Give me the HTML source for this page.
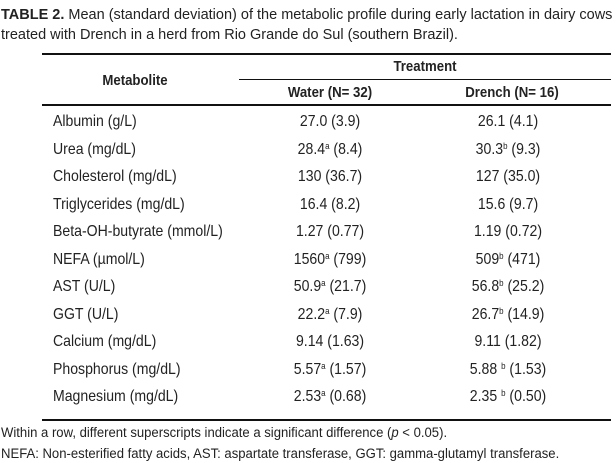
<!DOCTYPE html>
<html><head><meta charset="utf-8">
<style>
body{margin:0;width:616px;height:463px;background:#fff;position:relative;overflow:hidden;font-family:"Liberation Sans Narrow","Liberation Sans",sans-serif;color:#222;}
.t{position:absolute;white-space:nowrap;font-size:16px;line-height:18px;transform:scaleX(.88);transform-origin:0 0;}
.title{font-size:14.5px;left:1px;transform:none;}
.foot{font-size:13.5px;transform:scaleX(.97);}
.rule{position:absolute;height:1.5px;background:#111;}
.c{transform:translateX(-50%) scaleX(.88);transform-origin:50% 0;}
.h{font-weight:bold;font-size:15px;}
sup{font-size:9px;vertical-align:5px;line-height:0;}
b{font-weight:bold;}
</style></head><body>
<div class="t title" style="top:6px"><b>TABLE 2.</b> Mean (standard deviation) of the metabolic profile during early lactation in dairy cows</div>
<div class="t title" style="top:26px">treated with Drench in a herd from Rio Grande do Sul (southern Brazil).</div>
<div class="rule" style="left:42px;width:569px;top:53px"></div>
<div class="rule" style="left:239px;width:372px;top:79px;height:1px"></div>
<div class="rule" style="left:42px;width:569px;top:104px"></div>
<div class="rule" style="left:42px;width:569px;top:419px"></div>
<div class="t c h" style="left:135px;top:72px">Metabolite</div>
<div class="t c h" style="left:425px;top:58px">Treatment</div>
<div class="t c h" style="left:330px;top:84px">Water (N= 32)</div>
<div class="t c h" style="left:512px;top:84px">Drench (N= 16)</div>
<div id="rows"></div>
<div class="t foot" style="left:1px;top:424px">Within a row, different superscripts indicate a significant difference (<i>p</i> &lt; 0.05).</div>
<div class="t foot" style="left:1px;top:445px">NEFA: Non-esterified fatty acids, AST: aspartate transferase, GGT: gamma-glutamyl transferase.</div>
<script>
const metabolites=["Albumin (g/L)","Urea (mg/dL)","Cholesterol (mg/dL)","Triglycerides (mg/dL)","Beta-OH-butyrate (mmol/L)","NEFA (µmol/L)","AST (U/L)","GGT (U/L)","Calcium (mg/dL)","Phosphorus (mg/dL)","Magnesium (mg/dL)"];
const waterVals=["27.0 (3.9)","28.4<sup>a</sup> (8.4)","130 (36.7)","16.4 (8.2)","1.27 (0.77)","1560<sup>a</sup> (799)","50.9<sup>a</sup> (21.7)","22.2<sup>a</sup> (7.9)","9.14 (1.63)","5.57<sup>a</sup> (1.57)","2.53<sup>a</sup> (0.68)"];
const drenchVals=["26.1 (4.1)","30.3<sup>b</sup> (9.3)","127 (35.0)","15.6 (9.7)","1.19 (0.72)","509<sup>b</sup> (471)","56.8<sup>b</sup> (25.2)","26.7<sup>b</sup> (14.9)","9.11 (1.82)","5.88 <sup>b</sup> (1.53)","2.35 <sup>b</sup> (0.50)"];
const host=document.getElementById('rows');
metabolites.forEach((m,i)=>{
  const top=113+i*27.5;
  const a=document.createElement('div');a.className='t';a.style.left='53px';a.style.top=top+'px';a.textContent=m;
  
  
  const b=document.createElement('div');b.className='t c';b.style.left='330px';b.style.top=top+'px';b.innerHTML=waterVals[i];
  
  
  const c=document.createElement('div');c.className='t c';c.style.left='508px';c.style.top=top+'px';c.innerHTML=drenchVals[i];
  
  
  host.append(a,b,c);
});
</script>
</body></html>
